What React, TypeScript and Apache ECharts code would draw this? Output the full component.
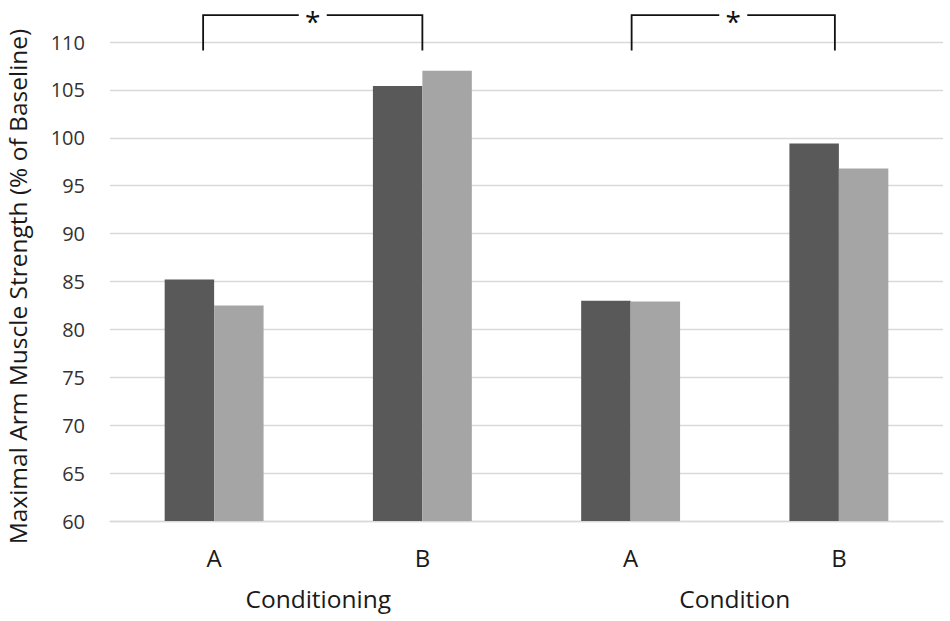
import React, { useEffect, useRef } from "react";
import * as echarts from "echarts";

const categories = ["A", "B", "A", "B"];
const groups = ["Conditioning", "Condition"];
const seriesDark = [85.2, 105.4, 83.0, 99.4];
const seriesLight = [82.5, 107.0, 82.9, 96.8];
const yTicks = { min: 60, max: 110, interval: 5 };
const brackets = [
  { from: 0, to: 1, dxFrom: -11, dxTo: 0, top: 112.8, bottom: 109.1, label: "*" },
  { from: 2, to: 3, dxFrom: 1, dxTo: -4, top: 112.8, bottom: 109.1, label: "*" },
];

const FONT = "'Open Sans', sans-serif";

export default function App() {
  const ref = useRef<HTMLDivElement>(null);
  useEffect(() => {
    if (!ref.current) return;
    const chart = echarts.init(ref.current, null, { renderer: "svg" });
    chart.setOption({
      animation: false,
      grid: { left: 110, right: 7, top: 42, bottom: 100, outerBoundsMode: "none", containLabel: false },
      xAxis: [
        {
          type: "category",
          data: categories,
          axisLine: { show: true, lineStyle: { color: "#d9d9d9", width: 1.3 } },
          axisTick: { show: false },
          axisLabel: { color: "#1a1a1a", fontSize: 24, fontFamily: FONT, margin: 24 },
        },
        {
          type: "category",
          data: groups,
          position: "bottom",
          offset: 55,
          axisLine: { show: false },
          axisTick: { show: false },
          axisLabel: { color: "#1a1a1a", fontSize: 24.5, fontFamily: FONT, margin: 10 },
        },
      ],
      yAxis: {
        type: "value",
        min: yTicks.min,
        max: yTicks.max,
        interval: yTicks.interval,
        name: "Maximal Arm Muscle Strength (% of Baseline)",
        nameLocation: "middle",
        nameGap: 80,
        nameRotate: 90,
        nameTextStyle: { color: "#1a1a1a", fontSize: 24.5, fontFamily: FONT, padding: [0, 10, 0, 0] },
        axisLine: { show: false },
        axisTick: { show: false },
        axisLabel: { color: "#333333", fontSize: 20, fontFamily: FONT, margin: 25 },
        splitLine: { lineStyle: { color: "#d9d9d9", width: 1.3 } },
      },
      series: [
        {
          type: "bar",
          data: seriesDark,
          xAxisIndex: 0,
          barGap: "0%",
          barCategoryGap: "52.5%",
          itemStyle: { color: "#595959" },
        },
        {
          type: "bar",
          data: seriesLight,
          xAxisIndex: 0,
          barGap: "0%",
          barCategoryGap: "52.5%",
          itemStyle: { color: "#a5a5a5" },
        },
      ],
    });

    const graphics: any[] = [];
    brackets.forEach((b) => {
      const p1 = chart.convertToPixel({ xAxisIndex: 0, yAxisIndex: 0 }, [b.from, b.top]) as number[];
      const p2 = chart.convertToPixel({ xAxisIndex: 0, yAxisIndex: 0 }, [b.to, b.bottom]) as number[];
      const x1 = p1[0] + b.dxFrom;
      const x2 = p2[0] + b.dxTo;
      const yt = p1[1];
      const yb = p2[1];
      const mid = (x1 + x2) / 2;
      const gap = 14;
      const style = { stroke: "#111", lineWidth: 1.8, fill: null };
      graphics.push({
        type: "polyline",
        shape: { points: [[x1, yb], [x1, yt], [mid - gap, yt]] },
        style,
        silent: true,
      });
      graphics.push({
        type: "polyline",
        shape: { points: [[mid + gap, yt], [x2, yt], [x2, yb]] },
        style,
        silent: true,
      });
      graphics.push({
        type: "text",
        x: mid,
        y: yt + 6,
        style: {
          text: b.label,
          fontSize: 28,
          fontFamily: FONT,
          fill: "#111",
          align: "center",
          verticalAlign: "middle",
        },
        silent: true,
      });
    });
    chart.setOption({ graphic: graphics });
    return () => chart.dispose();
  }, []);
  return <div ref={ref} style={{ width: 950, height: 621, position: "absolute", left: 0, top: 0 }} />;
}
